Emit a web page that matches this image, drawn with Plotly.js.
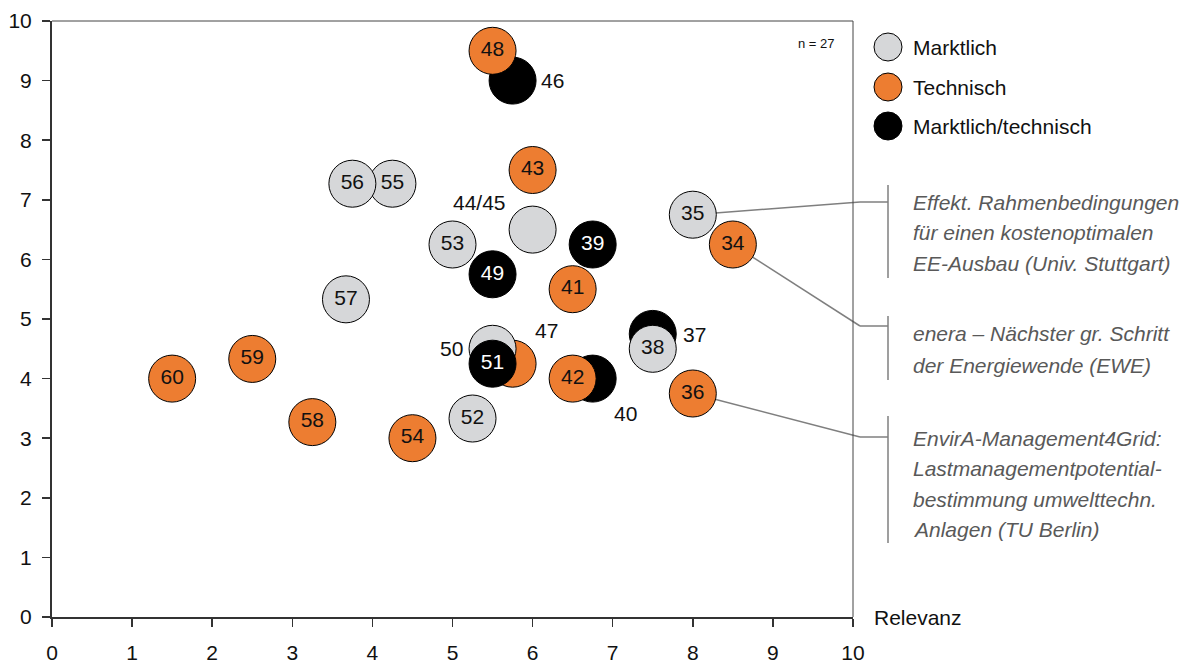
<!DOCTYPE html>
<html>
<head>
<meta charset="utf-8">
<script src="https://cdn.plot.ly/plotly-3.0.1.min.js"></script>
<style>html,body{margin:0;padding:0;background:#fff;}#chart{width:1196px;height:668px;}</style>
</head>
<body>
<div id="chart"></div>
<script>
// ---- data (drawing order: lower marks first) ----
const ids        = ['46','48','55','56','43','44/45','53','49','39','41','35','34','37','38','40','42','47','50','51','52','54','57','58','59','60','36'];
const categories = ['MT','T','M','M','T','M','M','MT','MT','T','M','T','MT','M','MT','T','T','M','MT','M','T','M','T','T','T','T'];
const relevanz   = [5.75,5.5,4.25,3.75,6.0,6.0,5.0,5.5,6.75,6.5,8.0,8.5,7.5,7.5,6.75,6.5,5.75,5.5,5.5,5.25,4.5,3.67,3.25,2.5,1.5,8.0];
const yValues    = [9.0,9.5,7.27,7.27,7.5,6.5,6.25,5.75,6.25,5.5,6.75,6.25,4.75,4.5,4.0,4.0,4.25,4.5,4.25,3.33,3.0,5.33,3.27,4.33,4.0,3.75];
const outsideLabelIds = ['46','44/45','37','40','47','50'];
const legendKeys  = ['M','T','MT'];
const legendNames = ['Marktlich','Technisch','Marktlich/technisch'];
const xTicks = [0,1,2,3,4,5,6,7,8,9,10];
const yTicks = [0,1,2,3,4,5,6,7,8,9,10];
const xTitle = 'Relevanz';
const sampleNote = 'n = 27';
const noteIds = ['35','34','36'];
const noteTexts = [
  ['Effekt. Rahmenbedingungen','für einen kostenoptimalen','EE-Ausbau (Univ. Stuttgart)'],
  ['enera – Nächster gr. Schritt','der Energiewende (EWE)'],
  ['EnvirA-Management4Grid:','Lastmanagementpotential-','bestimmung umwelttechn.','Anlagen (TU Berlin)']
];

// ---- styles ----
const FONT = '"Liberation Sans", Arial, sans-serif';
const fill = {M:'#d6d7d9', T:'#ed7d31', MT:'#000000'};
const textCol = {M:'#111111', T:'#111111', MT:'#ffffff'};
const W = 1196, H = 668, ML = 52, MR = 343, MT_ = 21, MB = 51;
const PW = W - ML - MR, PH = H - MT_ - MB;
const px2x = p => (p - ML) / PW;
const px2y = p => (H - MB - p) / PH;
const outsideOffsets = {'46':[40,0],'44/45':[-53,27],'37':[42,-1],'40':[33,-35],'47':[34,33],'50':[-41,0]};
const legendY = [47,87,126];
const notes = [
  {hy:202, top:185, bot:278, lines:[202,232,263]},
  {hy:326, top:316, bot:380, lines:[333,365]},
  {hy:437, top:416, bot:543, lines:[438,468,499,529]}
];

const insideText = ids.map(id => outsideLabelIds.includes(id) ? '' : id);

const traces = [{
  type:'scatter', mode:'markers+text',
  x: relevanz, y: yValues, text: insideText,
  textposition:'middle center',
  textfont:{family:FONT, size:21, color: categories.map(c => textCol[c])},
  marker:{size:47, color: categories.map(c => fill[c]), line:{color:'#000', width:1}, opacity:1},
  cliponaxis:false, showlegend:false, hoverinfo:'skip'
}];

const annotations = [];
const shapes = [];

// outside labels
ids.forEach((id,i) => {
  if (outsideLabelIds.includes(id)) {
    const o = outsideOffsets[id];
    annotations.push({x: relevanz[i], y: yValues[i], xref:'x', yref:'y', text:id, showarrow:false,
      xshift:o[0], yshift:o[1], font:{family:FONT, size:21, color:'#111'}});
  }
});

// frame top/right
shapes.push({type:'line', xref:'paper', yref:'paper', x0:0, x1:1, y0:1, y1:1, line:{color:'#444', width:1}});
shapes.push({type:'line', xref:'paper', yref:'paper', x0:1, x1:1, y0:0, y1:1, line:{color:'#444', width:1}});

// legend
legendKeys.forEach((k,i) => {
  shapes.push({type:'circle', xref:'paper', yref:'paper', xsizemode:'pixel', ysizemode:'pixel',
    xanchor: px2x(888), yanchor: px2y(legendY[i]), x0:-14, x1:14, y0:-14, y1:14,
    fillcolor: fill[k], line:{color:'#000', width:1}});
  annotations.push({xref:'paper', yref:'paper', x: px2x(911), y: px2y(legendY[i]), xanchor:'left', yanchor:'middle',
    text: legendNames[i], showarrow:false, font:{family:FONT, size:21, color:'#111'}});
});

// notes with connectors
noteIds.forEach((nid,j) => {
  const i = ids.indexOf(nid);
  const n = notes[j];
  shapes.push({type:'line', layer:'below', xref:'paper', yref:'paper',
    x0: relevanz[i]/10, y0: yValues[i]/10, x1: px2x(860), y1: px2y(n.hy), line:{color:'#7f7f7f', width:1.5}});
  shapes.push({type:'line', xref:'paper', yref:'paper', x0: px2x(860), x1: px2x(888), y0: px2y(n.hy), y1: px2y(n.hy), line:{color:'#7f7f7f', width:1.5}});
  shapes.push({type:'line', xref:'paper', yref:'paper', x0: px2x(888), x1: px2x(888), y0: px2y(n.top), y1: px2y(n.bot), line:{color:'#7f7f7f', width:1.5}});
  noteTexts[j].forEach((t,k) => {
    annotations.push({xref:'paper', yref:'paper', x: px2x(911), y: px2y(n.lines[k]), xanchor:'left', yanchor:'middle',
      text:'<i>'+t+'</i>', showarrow:false, font:{family:FONT, size:21, color:'#595959'}});
  });
});

// axis title and n
annotations.push({xref:'paper', yref:'paper', x: px2x(872), y: px2y(617), xanchor:'left', yanchor:'middle',
  text: xTitle, showarrow:false, font:{family:FONT, size:21, color:'#111'}});
annotations.push({xref:'paper', yref:'paper', x: px2x(837), y: px2y(43), xanchor:'right', yanchor:'middle',
  text: sampleNote, showarrow:false, font:{family:FONT, size:13, color:'#111'}});

const layout = {
  width:W, height:H, margin:{l:ML, r:MR, t:MT_, b:MB, pad:0},
  paper_bgcolor:'#fff', plot_bgcolor:'#fff',
  xaxis:{range:[0,10], tickvals:xTicks, ticktext:xTicks.map(String), showgrid:false, zeroline:false,
    showline:true, linecolor:'#333', linewidth:2, ticks:'outside', ticklen:8, tickwidth:1.5, tickcolor:'#333',
    ticklabelstandoff:8, tickfont:{family:FONT, size:21, color:'#111'}, fixedrange:true},
  yaxis:{range:[0,10], tickvals:yTicks, ticktext:yTicks.map(String), showgrid:false, zeroline:false,
    showline:true, linecolor:'#333', linewidth:2, ticks:'outside', ticklen:8, tickwidth:1.5, tickcolor:'#333',
    ticklabelstandoff:6, tickfont:{family:FONT, size:21, color:'#111'}, fixedrange:true},
  showlegend:false,
  shapes: shapes,
  annotations: annotations
};

Plotly.newPlot('chart', traces, layout, {staticPlot:true, displayModeBar:false});
</script>
</body>
</html>
